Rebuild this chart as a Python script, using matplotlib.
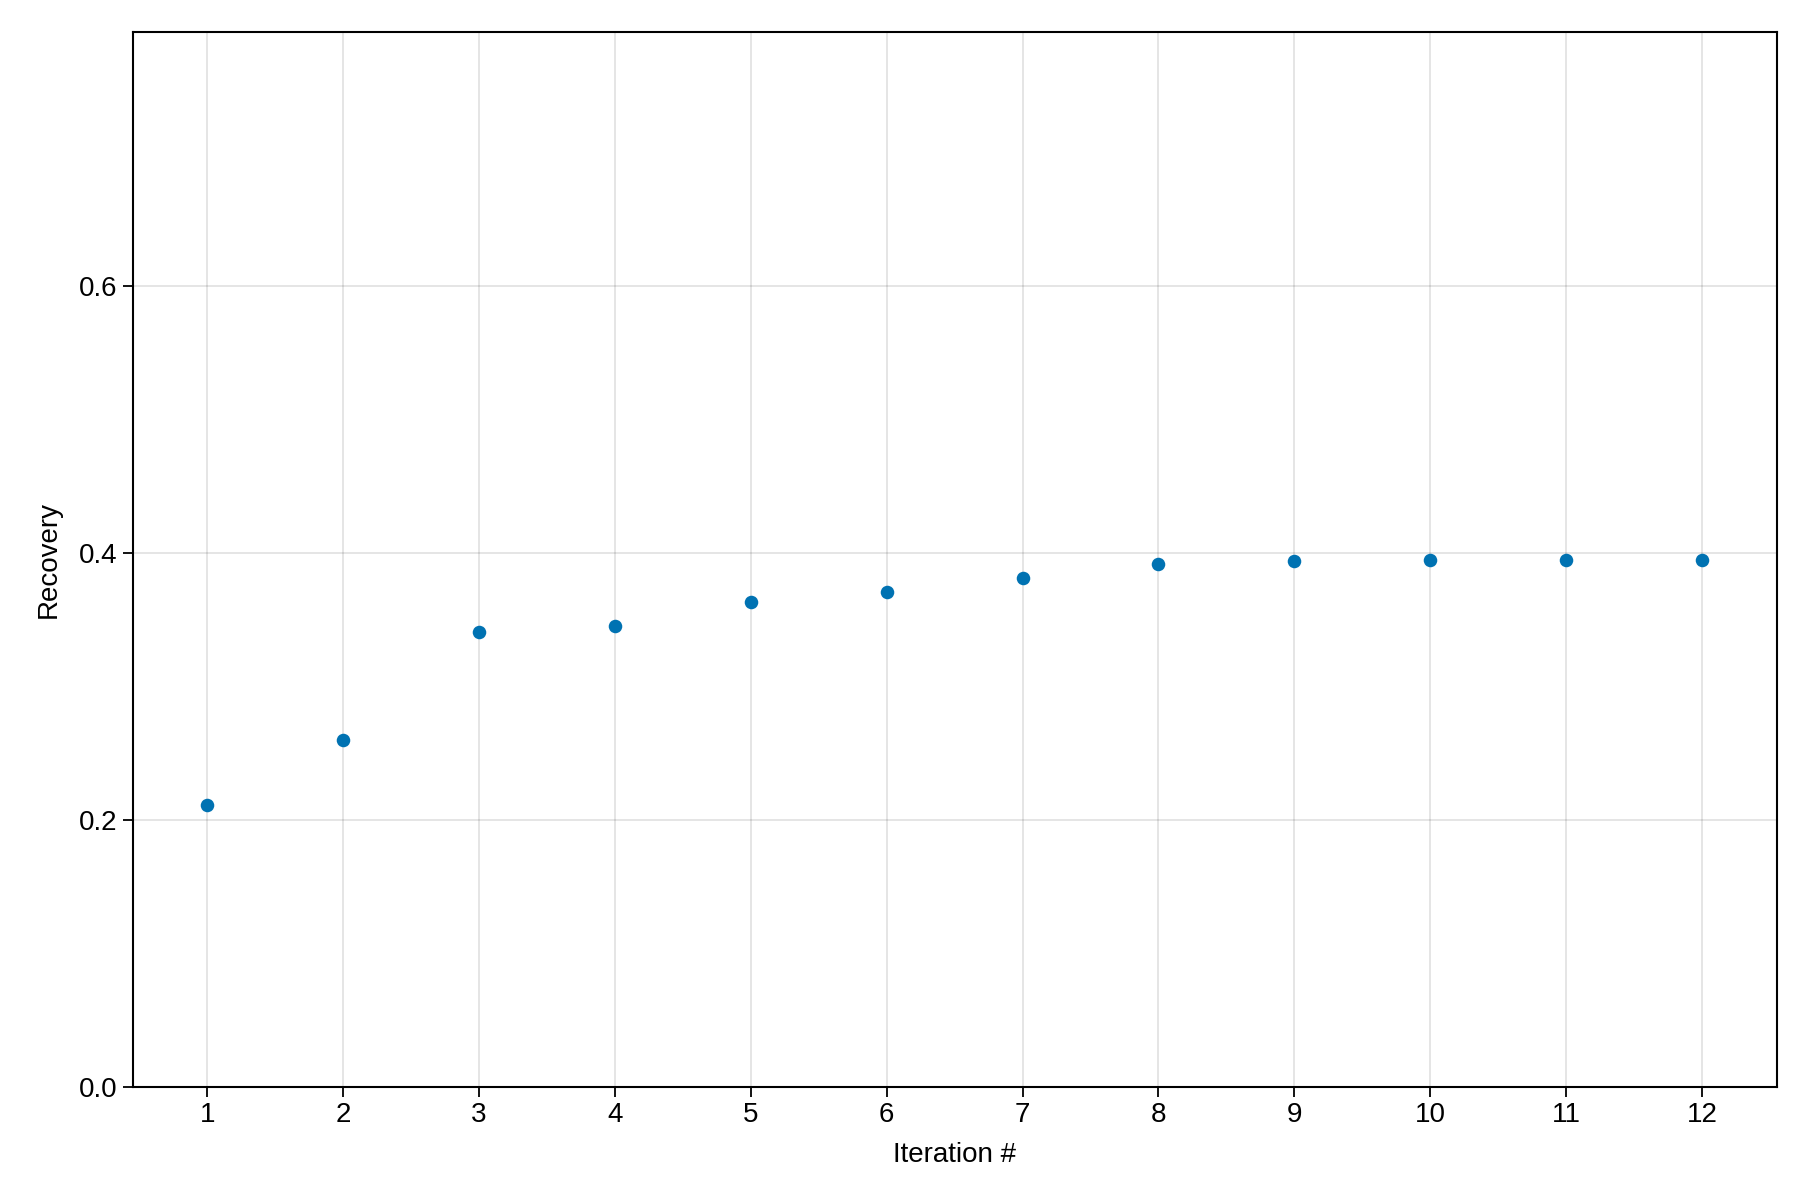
import matplotlib
matplotlib.use("Agg")
import matplotlib.pyplot as plt

plt.rcParams['font.family'] = ['Liberation Sans', 'DejaVu Sans']

# data
iterations = [1, 2, 3, 4, 5, 6, 7, 8, 9, 10, 11, 12]
recovery = [0.211, 0.260, 0.341, 0.345, 0.363, 0.371, 0.381, 0.392, 0.394, 0.395, 0.395, 0.395]
yticks = [0.0, 0.2, 0.4, 0.6]

fig = plt.figure(figsize=(18, 12), dpi=100)
ax = fig.add_axes([0.0737, 0.0942, 0.9133, 0.8789])

ax.scatter(iterations, recovery, s=95, color='#0072B2', zorder=3, linewidths=0)

ax.set_xlim(0.45, 12.55)
ax.set_ylim(0, 0.79)
ax.set_xticks(iterations)
ax.set_yticks(yticks)
ax.set_yticklabels([f"{v:.1f}" for v in yticks])
ax.grid(True, color='black', alpha=0.12, linewidth=1.2)
ax.set_axisbelow(True)

for sp in ax.spines.values():
    sp.set_linewidth(1.5)
ax.tick_params(direction='out', length=7, width=1.3, labelsize=20, pad=4)

ax.set_xlabel('Iteration #', fontsize=20, labelpad=10)
ax.set_ylabel('Recovery', fontsize=20, labelpad=12)

fig.savefig('out.png', dpi=100)
